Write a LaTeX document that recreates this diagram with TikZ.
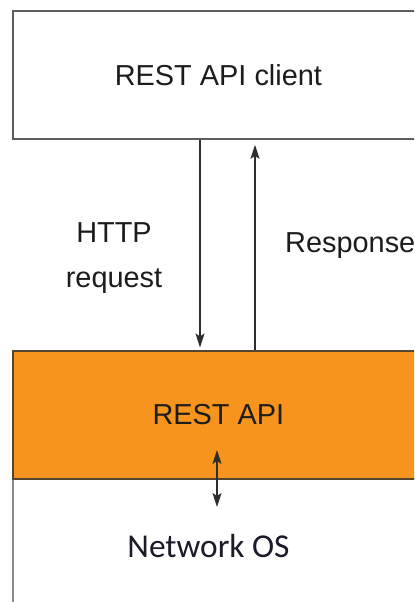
\documentclass[tikz,border=0pt]{standalone}
\usepackage{fontspec}
\setmainfont{Liberation Sans}
\newfontfamily\calibfont{Carlito}
\usetikzlibrary{arrows.meta}
\definecolor{boxgray}{HTML}{5E5E5E}
\definecolor{orangef}{HTML}{F7941D}
\definecolor{orangeb}{HTML}{54452E}
\definecolor{osgray}{HTML}{8A8A8A}
\definecolor{arrcol}{HTML}{2E2E2E}
\definecolor{txt}{HTML}{1C1C1C}
\definecolor{ostxt}{HTML}{1A1A28}
\begin{document}
\begin{tikzpicture}[x=1bp,y=-1bp,
  basebox/.style={line width=1.8bp, minimum width=411bp, minimum height=128bp,
    inner sep=0pt, anchor=north west, font=\fontsize{29}{35}\selectfont, text=txt},
  clientbox/.style={basebox, draw=boxgray, fill=white},
  apibox/.style={basebox, draw=orangeb, fill=orangef},
  osbox/.style={basebox, draw=osgray, fill=white, minimum height=150bp},
  lbl/.style={font=\fontsize{29}{45}\selectfont, text=txt, inner sep=0pt},
  ostext/.style={font=\calibfont\fontsize{33.5}{40}\selectfont, text=ostxt, inner sep=0pt},
  tip/.tip={Stealth[length=14bp,width=9bp,inset=3bp]},
  arr/.style={draw=arrcol, line width=1.6bp, -tip},
  darr/.style={draw=arrcol, line width=1.6bp, tip-tip}]
\useasboundingbox (0,0) rectangle (414,602);
\clip (0,0) rectangle (414,602);
\fill[white] (0,0) rectangle (414,602);
\node[clientbox] (client) at (12,10) {REST API client};
\node[osbox] (os) at (12,478) {};
\node[apibox] (api) at (12,350) {REST API};
\node[ostext] (ostxt) at (208.5,546.5) {Network OS};
\coordinate (dx) at (200,0);
\coordinate (ux) at (255,0);
\coordinate (btop) at (217,450);
\coordinate (bbot) at (217,507);
\draw[arr, shorten >=2.5bp] (client.south -| dx) -- (api.north -| dx);
\draw[arr, shorten >=5bp] (api.north -| ux) -- (client.south -| ux);
\draw[darr] (bbot) -- (btop);
\node[lbl, align=center, anchor=north] (req) at (114,222.5) {HTTP\\request};
\node[lbl, anchor=base west] (resp) at (285,252) {Response};
\end{tikzpicture}
\end{document}
